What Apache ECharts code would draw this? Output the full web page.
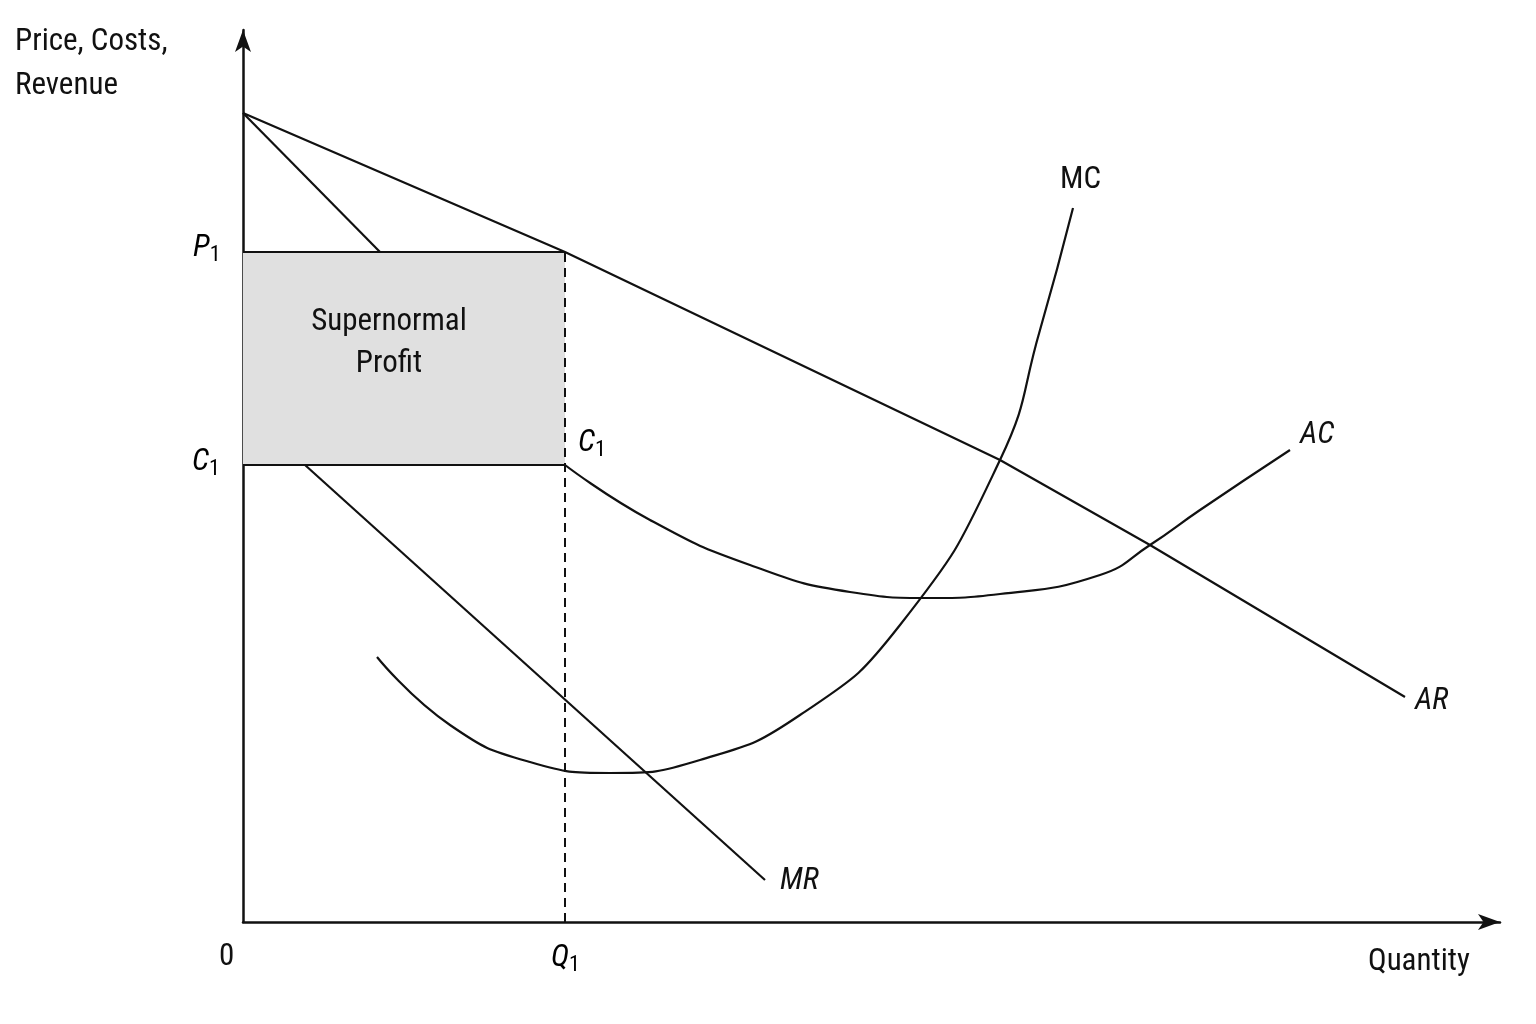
<!DOCTYPE html>
<html><head><meta charset="utf-8">
<script src="https://cdn.jsdelivr.net/npm/echarts@6/dist/echarts.min.js"></script>
<style>html,body{margin:0;background:#fff}#c{width:1536px;height:1024px}</style>
</head><body><div id="c"></div>
<script>
const AR = [[0,809],[322,670],[757,462],[907,377],[1162,225]];
const MR_top = [[0,809],[137,670]];
const MR_low = [[62,457],[522,42]];
const AC = [[322,457],[407,402],[507,357],[607,330],[687,324],[757,328],[857,347],[907,377],[957,412],[1047,472]];
const MC = [[134,265],[207,197],[287,160],[367,149],[457,162],[557,207],[657,297],[757,462],[797,592],[830,714]];
const P1 = 670, C1 = 457, Q1 = 322;

const F = "'Liberation Sans Narrow','Roboto Condensed','Liberation Sans',sans-serif";
const ls = {color:'#111', width:2.2};
function line(data, smooth){return {type:'line', data, smooth: smooth?0.5:false, symbol:'none', lineStyle:ls, silent:true};}
const chart = echarts.init(document.getElementById('c'));
const sub = {n:{fontSize:31,fontStyle:'italic',fontFamily:F,color:'#111'}, s:{fontSize:22,fontFamily:F,color:'#111',padding:[14,0,0,0]}};
function txt(x,y,text,extra){return Object.assign({type:'text',x,y,style:Object.assign({text,fontFamily:F,fontSize:31,fill:'#111'},extra||{})});}
chart.setOption({
  animation:false,
  grid:{left:243,right:36,top:30,bottom:102},
  xAxis:{type:'value',min:0,max:1257,axisLine:{lineStyle:{color:'#111',width:2.5},symbol:['none','arrow'],symbolSize:[12,22]},axisTick:{show:false},axisLabel:{show:false},splitLine:{show:false}},
  yAxis:{type:'value',min:0,max:892,axisLine:{show:true,lineStyle:{color:'#111',width:2.5},symbol:['none','arrow'],symbolSize:[12,22]},axisTick:{show:false},axisLabel:{show:false},splitLine:{show:false}},
  series:[
    Object.assign(line([[0,P1],[Q1,P1]]),{markArea:{silent:true,itemStyle:{color:'#e0e0e0'},label:{show:true,position:'inside',formatter:'Supernormal\nProfit',fontFamily:F,fontSize:31,color:'#111',lineHeight:42,offset:[-15,-15]},data:[[{coord:[0,C1]},{coord:[Q1,P1]}]]}}),
    line([[0,C1],[Q1,C1]]),
    Object.assign(line([[Q1,0],[Q1,P1]]),{lineStyle:{color:'#111',width:2,type:[9,6]}}),
    line(AR), line(MR_top), line(MR_low), line(AC,true), line(MC,true)
  ],
  graphic:[
    txt(15,20,'Price, Costs,\nRevenue',{lineHeight:44}),
    txt(219,942,'0'),
    txt(1368,947,'Quantity'),
    txt(1060,165,'MC'),
    txt(1300,420,'AC',{fontStyle:'italic'}),
    txt(1415,686,'AR',{fontStyle:'italic'}),
    txt(780,866,'MR',{fontStyle:'italic'}),
    {type:'text',x:193,y:230,style:{text:'{n|P}{s|1}',rich:sub}},
    {type:'text',x:192,y:444,style:{text:'{n|C}{s|1}',rich:sub}},
    {type:'text',x:578,y:425,style:{text:'{n|C}{s|1}',rich:sub}},
    {type:'text',x:551,y:940,style:{text:'{n|Q}{s|1}',rich:sub}}
  ]
});
</script></body></html>
